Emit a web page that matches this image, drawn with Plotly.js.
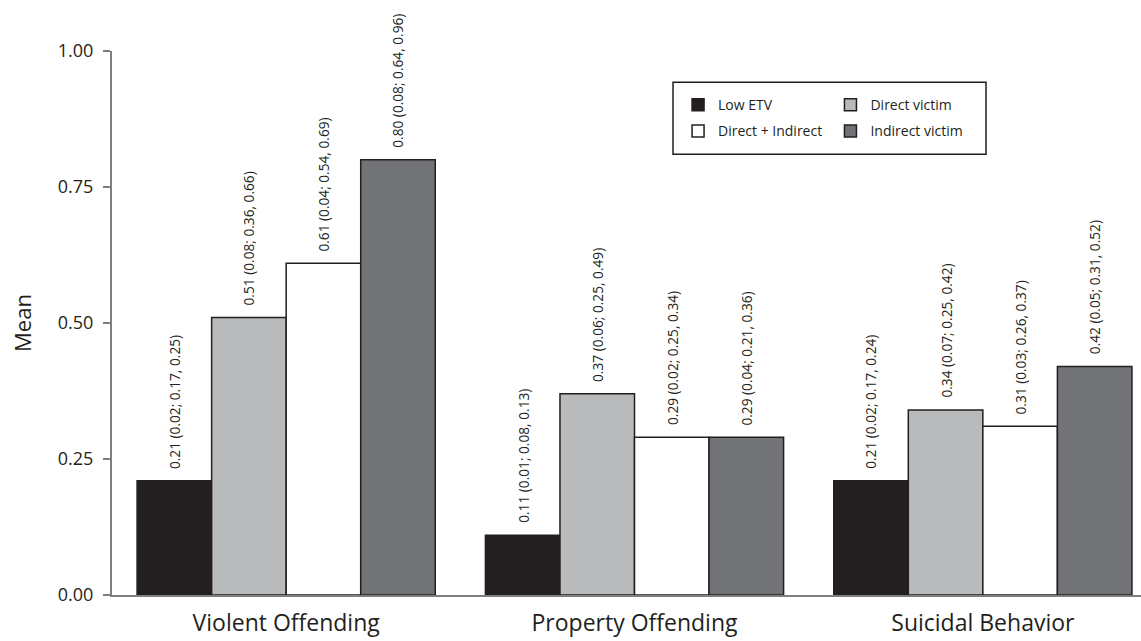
<!DOCTYPE html>
<html>
<head>
<meta charset="utf-8">
<script src="https://cdn.plot.ly/plotly-3.0.1.min.js"></script>
<style>html,body{margin:0;padding:0;background:#fff;}#chart{width:1141px;height:641px;}</style>
</head>
<body>
<div id="chart"></div>
<script>
var categories = ["Violent Offending", "Property Offending", "Suicidal Behavior"];
var seriesNames = ["Low ETV", "Direct victim", "Direct + Indirect", "Indirect victim"];
var means = [
  [0.21, 0.11, 0.21],
  [0.51, 0.37, 0.34],
  [0.61, 0.29, 0.31],
  [0.80, 0.29, 0.42]
];
var se = [
  [0.02, 0.01, 0.02],
  [0.08, 0.06, 0.07],
  [0.04, 0.02, 0.03],
  [0.08, 0.04, 0.05]
];
var ciLow = [
  [0.17, 0.08, 0.17],
  [0.36, 0.25, 0.25],
  [0.54, 0.25, 0.26],
  [0.64, 0.21, 0.31]
];
var ciHigh = [
  [0.25, 0.13, 0.24],
  [0.66, 0.49, 0.42],
  [0.69, 0.34, 0.37],
  [0.96, 0.36, 0.52]
];
var yTicks = [0, 0.25, 0.5, 0.75, 1.0];
var yTickLabels = ["0.00", "0.25", "0.50", "0.75", "1.00"];

var colors = ["#231f20", "#b9babc", "#ffffff", "#727377"];
var legendIds = ["legend", "legend2", "legend", "legend2"];
var FONT = "Open Sans, sans-serif";
var TXT = "#231f20";
var bargap = 0.144;

function f2(v){ return v.toFixed(2); }

var data = seriesNames.map(function(name, s){
  return {
    type: "bar",
    name: name,
    x: [0, 1, 2],
    y: means[s],
    marker: {color: colors[s], line: {color: "#231f20", width: 1.5}},
    legend: legendIds[s],
    legendgroup: "g" + s,
    hoverinfo: "skip"
  };
});

var annotations = [];
var w = (1 - bargap) / seriesNames.length;
seriesNames.forEach(function(name, s){
  categories.forEach(function(c, i){
    annotations.push({
      x: i + (s - (seriesNames.length - 1) / 2) * w,
      y: means[s][i],
      xref: "x", yref: "y",
      text: f2(means[s][i]) + " (" + f2(se[s][i]) + "; " + f2(ciLow[s][i]) + ", " + f2(ciHigh[s][i]) + ")",
      textangle: -90,
      showarrow: false,
      xanchor: "center", yanchor: "bottom",
      yshift: 10,
      font: {family: FONT, size: 13.7, color: TXT}
    });
  });
});

var legendBase = {
  xanchor: "left", y: 0.93, yanchor: "top",
  bgcolor: "rgba(0,0,0,0)", borderwidth: 0,
  font: {family: FONT, size: 14, color: TXT},
  traceorder: "grouped", tracegroupgap: 5, itemwidth: 30
};

var layout = {
  width: 1141, height: 641,
  margin: {l: 112, r: 0, t: 51, b: 46},
  paper_bgcolor: "#fff", plot_bgcolor: "#fff",
  barmode: "group", bargap: bargap, bargroupgap: 0,
  font: {family: FONT, color: TXT},
  xaxis: {
    type: "linear",
    range: [-0.5, 2.454],
    tickvals: [0, 1, 2], ticktext: categories,
    showgrid: false, zeroline: false,
    showline: true, linecolor: "#7f7f7f", linewidth: 2,
    ticks: "", ticklabelstandoff: 6,
    tickfont: {family: FONT, size: 23, color: TXT}
  },
  yaxis: {
    range: [0, 1],
    tickvals: yTicks, ticktext: yTickLabels,
    showgrid: false, zeroline: false,
    showline: true, linecolor: "#7f7f7f", linewidth: 2,
    ticks: "outside", ticklen: 7, tickwidth: 1.5, tickcolor: "#7f7f7f",
    ticklabelstandoff: 6,
    tickfont: {family: FONT, size: 18, color: TXT},
    title: {text: "Mean", font: {family: FONT, size: 22, color: TXT}, standoff: 20}
  },
  showlegend: true,
  legend: Object.assign({x: 0.5501}, legendBase),
  legend2: Object.assign({x: 0.6982}, legendBase),
  shapes: [{
    type: "rect", xref: "paper", yref: "paper",
    x0: 0.5452, x1: 0.8494, y0: 0.8102, y1: 0.9425,
    line: {color: "#231f20", width: 1.5}, fillcolor: "rgba(0,0,0,0)"
  }],
  annotations: annotations
};

Plotly.newPlot("chart", data, layout, {displayModeBar: false, staticPlot: true});
</script>
</body>
</html>
